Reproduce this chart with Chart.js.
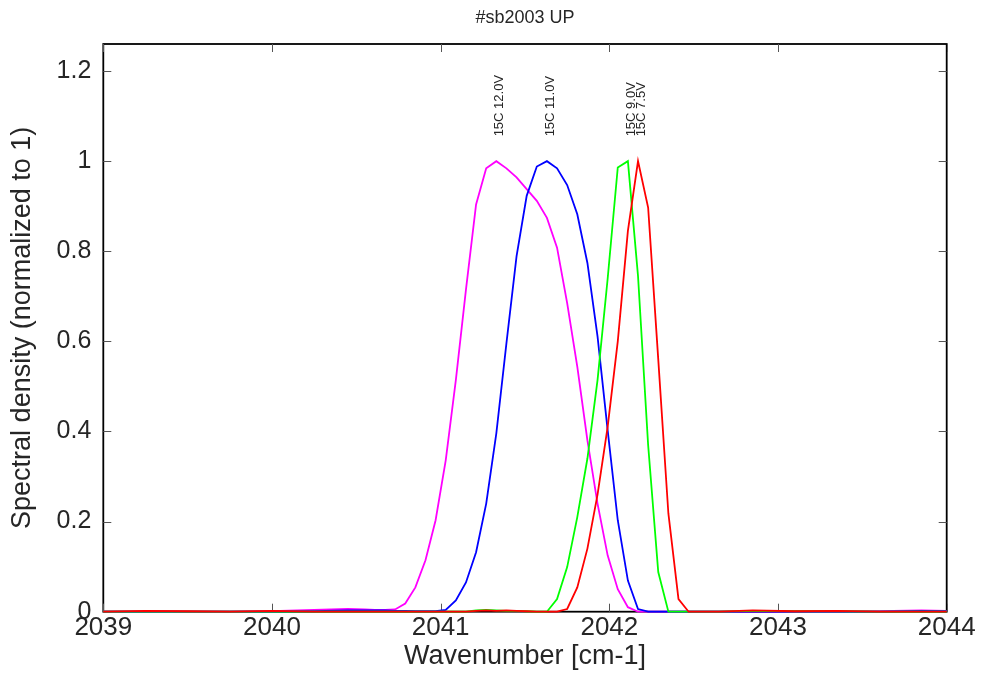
<!DOCTYPE html>
<html>
<head>
<meta charset="utf-8">
<script src="https://cdn.jsdelivr.net/npm/chart.js@4.4.0/dist/chart.umd.min.js"></script>
<style>
  html, body { margin: 0; padding: 0; background: #fff; }
  #wrap { width: 986px; height: 677px; position: relative; }
</style>
</head>
<body>
<div id="wrap"><canvas id="grafico"></canvas></div>
<script>
// wavenumber grid (cm-1): sparse baseline, fine grid across the peaks, sparse baseline
const wavenumbers = [
  2039.00, 2039.25, 2039.50, 2039.75, 2040.00, 2040.25, 2040.45,
  2040.55, 2040.61, 2040.67, 2040.73, 2040.79, 2040.85, 2040.91, 2040.97,
  2041.03, 2041.09, 2041.15, 2041.21, 2041.27, 2041.33, 2041.39, 2041.45,
  2041.51, 2041.57, 2041.63, 2041.69, 2041.75, 2041.81, 2041.87, 2041.93,
  2041.99, 2042.05, 2042.11, 2042.17, 2042.23, 2042.29, 2042.35, 2042.41,
  2042.47, 2042.53, 2042.59, 2042.65,
  2042.85, 2043.10, 2043.35, 2043.60, 2043.85, 2044.00
];

const dens12V = [
  0, 0, 0, 0, 0.001, 0.004, 0.006,
  0.005, 0.004, 0.004, 0.005, 0.018, 0.054, 0.114, 0.203,
  0.336, 0.514, 0.715, 0.904, 0.984, 1.0, 0.984, 0.964,
  0.938, 0.912, 0.874, 0.808, 0.685, 0.544, 0.38, 0.24,
  0.125, 0.05, 0.01, 0, 0, 0, 0, 0,
  0, 0, 0, 0,
  0, 0, 0, 0.001, 0.003, 0.002
];

const dens11V = [
  0, 0, 0, 0, 0, 0.001, 0.003,
  0.003, 0.003, 0.003, 0.002, 0.002, 0.001, 0.001, 0.001,
  0.004, 0.025, 0.065, 0.132, 0.24, 0.396, 0.596, 0.789,
  0.923, 0.988, 1.0, 0.984, 0.947, 0.882, 0.774, 0.611,
  0.403, 0.203, 0.069, 0.006, 0, 0, 0, 0,
  0, 0, 0, 0,
  0, 0, 0, 0, 0.002, 0.001
];

const dens9V = [
  0, 0, 0, 0, 0, 0, 0,
  0, 0, 0, 0, 0, 0, 0, 0,
  0, 0, 0, 0.003, 0.004, 0.003, 0.002, 0.002,
  0.001, 0, 0, 0.028, 0.099, 0.21, 0.34, 0.514,
  0.739, 0.986, 1.0, 0.745, 0.37, 0.088, 0, 0,
  0, 0, 0, 0,
  0.002, 0.001, 0.001, 0, 0, 0
];

const dens75V = [
  0, 0.002, 0.001, 0, 0.002, 0, 0,
  0, 0, 0, 0, 0, 0, 0, 0,
  0, 0, 0, 0.002, 0.003, 0.002, 0.003, 0.002,
  0.001, 0, 0, 0, 0.006, 0.054, 0.14, 0.26,
  0.41, 0.60, 0.845, 1.0, 0.897, 0.56, 0.218, 0.028,
  0, 0, 0, 0,
  0.003, 0.001, 0.002, 0, 0, 0
];

// peak annotations
const peakLabels = ["15C 12.0V", "15C 11.0V", "15C 9.0V", "15C 7.5V"];
const peakLabelX = [2041.35, 2041.65, 2042.128, 2042.192];
const peakLabelY = 1.055;

const xTicks = [2039, 2040, 2041, 2042, 2043, 2044];
const yTicks = [0, 0.2, 0.4, 0.6, 0.8, 1, 1.2];

const fuente = "'Liberation Sans', Arial, Helvetica, sans-serif";
const texto = "#262626";

function serie(valores) {
  return wavenumbers.map((w, i) => ({ x: w, y: valores[i] }));
}

// frame, inward ticks on all four sides, title and peak labels
const marco = {
  id: "marco",
  beforeDatasetsDraw(chart) {
    const { ctx, chartArea: a, scales } = chart;
    ctx.save();
    ctx.strokeStyle = "#000";
    ctx.lineWidth = 1.8;
    ctx.strokeRect(a.left, a.top, a.right - a.left, a.bottom - a.top);
    ctx.strokeStyle = "#555";
    ctx.lineWidth = 1;
    const largo = 8;
    xTicks.forEach(v => {
      const px = Math.round(scales.x.getPixelForValue(v)) + 0.5;
      ctx.beginPath();
      ctx.moveTo(px, a.bottom); ctx.lineTo(px, a.bottom - largo);
      ctx.moveTo(px, a.top); ctx.lineTo(px, a.top + largo);
      ctx.stroke();
    });
    yTicks.forEach(v => {
      const py = Math.round(scales.y.getPixelForValue(v)) + 0.5;
      ctx.beginPath();
      ctx.moveTo(a.left, py); ctx.lineTo(a.left + largo, py);
      ctx.moveTo(a.right, py); ctx.lineTo(a.right - largo, py);
      ctx.stroke();
    });
    ctx.restore();
  },
  afterDatasetsDraw(chart) {
    const { ctx, chartArea: a, scales } = chart;
    ctx.save();
    ctx.fillStyle = texto;
    ctx.font = "18px " + fuente;
    ctx.textAlign = "center";
    ctx.textBaseline = "middle";
    ctx.fillText("#sb2003 UP", (a.left + a.right) / 2, 18);

    ctx.font = "13px " + fuente;
    ctx.textAlign = "left";
    peakLabels.forEach((t, i) => {
      const px = scales.x.getPixelForValue(peakLabelX[i]);
      const py = scales.y.getPixelForValue(peakLabelY);
      ctx.save();
      ctx.translate(px, py);
      ctx.rotate(-Math.PI / 2);
      ctx.fillText(t, 0, 0);
      ctx.restore();
    });
    ctx.restore();
  }
};

const linea = (label, data, color, order) => ({
  label,
  data: serie(data),
  borderColor: color,
  backgroundColor: color,
  borderWidth: 1.8,
  pointRadius: 0,
  tension: 0,
  clip: 4,
  order
});

new Chart(document.getElementById("grafico"), {
  type: "line",
  data: {
    datasets: [
      linea("15C 7.5V", dens75V, "#ff0000", 0),
      linea("15C 9.0V", dens9V, "#00ff00", 1),
      linea("15C 11.0V", dens11V, "#0000ff", 2),
      linea("15C 12.0V", dens12V, "#ff00ff", 3)
    ]
  },
  options: {
    responsive: true,
    maintainAspectRatio: false,
    animation: false,
    layout: { padding: { top: 44, right: 39.3, left: 0, bottom: 0 } },
    plugins: {
      legend: { display: false },
      tooltip: { enabled: false },
      title: { display: false }
    },
    scales: {
      x: {
        type: "linear",
        min: 2039,
        max: 2044,
        afterFit: s => { s.height = 65.3; },
        afterBuildTicks: s => { s.ticks = xTicks.map(v => ({ value: v })); },
        grid: { display: false, drawTicks: false },
        border: { display: false },
        ticks: {
          padding: 1,
          color: texto,
          font: { family: fuente, size: 26 },
          maxRotation: 0,
          callback: v => String(v)
        },
        title: {
          display: true,
          text: "Wavenumber [cm-1]",
          color: texto,
          font: { family: fuente, size: 27 },
          padding: { top: 0, bottom: 4 }
        }
      },
      y: {
        min: 0,
        max: 1.26,
        afterFit: s => { s.width = 103.3; },
        afterBuildTicks: s => { s.ticks = yTicks.map(v => ({ value: v })); },
        grid: { display: false, drawTicks: false },
        border: { display: false },
        ticks: {
          padding: 12,
          color: texto,
          font: { family: fuente, size: 25 },
          callback: v => String(Math.round(v * 10) / 10)
        },
        title: {
          display: true,
          text: "Spectral density (normalized to 1)",
          color: texto,
          font: { family: fuente, size: 27 },
          padding: { top: 6, bottom: 0 }
        }
      }
    }
  },
  plugins: [marco]
});
</script>
</body>
</html>
